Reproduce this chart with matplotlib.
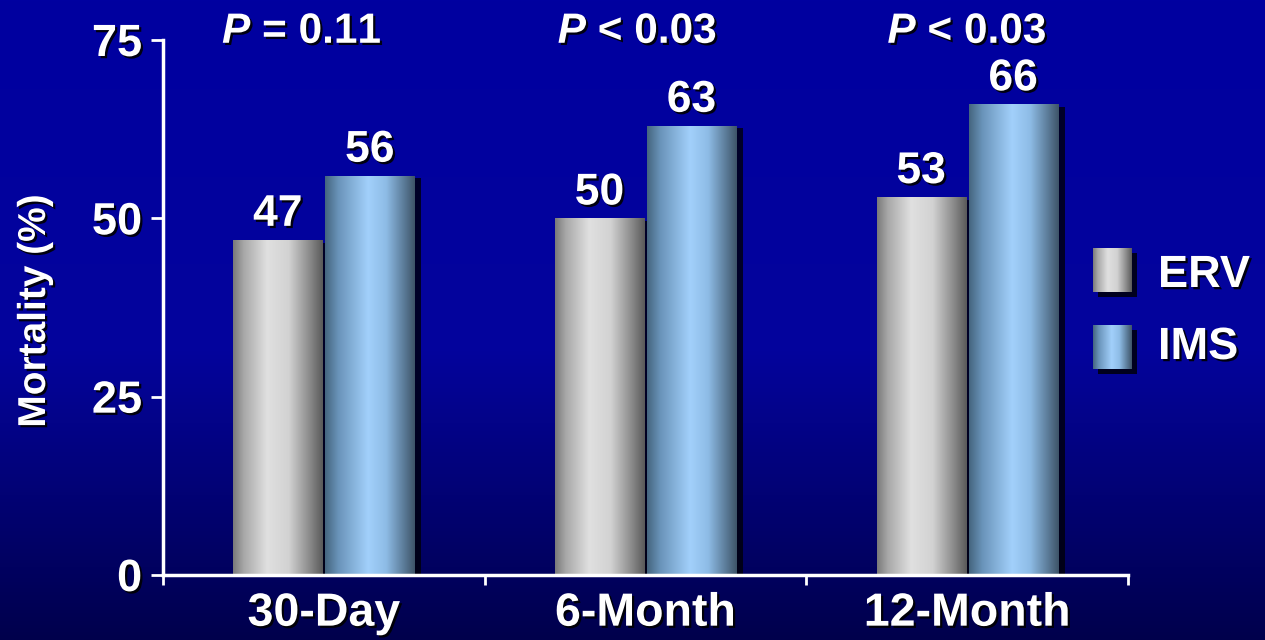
import numpy as np
import matplotlib
matplotlib.use("Agg")
import matplotlib.pyplot as plt
import matplotlib.patheffects as pe
from matplotlib.colors import LinearSegmentedColormap
from matplotlib.patches import Rectangle

# ---- data ----
categories = ["30-Day", "6-Month", "12-Month"]
series_names = ["ERV", "IMS"]
erv = [47, 50, 53]
ims = [56, 63, 66]
p_labels = [r"$P$ = 0.11", r"$P$ < 0.03", r"$P$ < 0.03"]
y_ticks = [0, 25, 50, 75]

plt.rcParams["font.family"] = ["Liberation Sans", "DejaVu Sans"]
plt.rcParams["mathtext.fontset"] = "custom"
plt.rcParams["mathtext.it"] = "Liberation Sans:italic:bold"
plt.rcParams["mathtext.rm"] = "Liberation Sans:bold"

W, H = 1265, 640
fig = plt.figure(figsize=(W / 100, H / 100), dpi=100)

# background: vertical blue gradient, in pixel-like coordinates
bg = fig.add_axes([0, 0, 1, 1])
bg.set_xlim(0, W)
bg.set_ylim(H, 0)
bg.axis("off")
bg_cmap = LinearSegmentedColormap.from_list(
    "bg", [(0.0, "#0000a0"), (0.55, "#04049c"), (1.0, "#00004c")])
bg.imshow(np.linspace(0, 1, 256)[:, None], cmap=bg_cmap,
          extent=[0, W, H, 0], aspect="auto", zorder=0)

# cylinder-like shading for the bars
erv_cmap = LinearSegmentedColormap.from_list(
    "erv", [(0.0, "#7a7a7a"), (0.12, "#a8a8a8"), (0.38, "#e0e0e0"),
            (0.62, "#d2d2d2"), (0.85, "#8c8c8c"), (1.0, "#5a5a5a")])
ims_cmap = LinearSegmentedColormap.from_list(
    "ims", [(0.0, "#45657f"), (0.15, "#6a94ba"), (0.48, "#a2d0fb"),
            (0.68, "#8ebce6"), (0.88, "#5b7b98"), (1.0, "#3e5468")])
cmaps = [erv_cmap, ims_cmap]

text_shadow = [pe.withSimplePatchShadow(offset=(1.6, -1.6),
                                        shadow_rgbFace="black", alpha=0.9)]
bar_shadow = [pe.SimplePatchShadow(offset=(5, -2), shadow_rgbFace="black",
                                   alpha=0.75), pe.Normal()]

ax = fig.add_axes([163 / W, 65 / H, 965 / W, 535 / H])
ax.patch.set_alpha(0)

x = np.arange(len(categories))
width = 0.277
offset = 0.143
grad = np.linspace(0, 1, 256)[None, :]

for values, shift, cmap in zip([erv, ims], [-offset, offset], cmaps):
    bars = ax.bar(x + shift, values, width, facecolor="none",
                  edgecolor="none", zorder=2)
    for rect, v in zip(bars, values):
        rect.set_path_effects(bar_shadow)
        x0, w_, h_ = rect.get_x(), rect.get_width(), rect.get_height()
        im = ax.imshow(grad, cmap=cmap, extent=[x0, x0 + w_, 0, h_],
                       aspect="auto", zorder=3)
        im.set_clip_path(rect)
        ax.annotate(f"{v}", (x0 + w_ / 2, v), xytext=(0, 10),
                    textcoords="offset points", ha="center", va="baseline",
                    fontsize=32, fontweight="bold", color="white",
                    path_effects=text_shadow, zorder=6)

# p-value annotations above each group
p_x = [-0.068, 0.975, 2.0]
for px, lbl in zip(p_x, p_labels):
    ax.text(px, 74.6, lbl, ha="center", va="baseline", fontsize=30.5,
            fontweight="bold", color="white", path_effects=text_shadow,
            clip_on=False, zorder=6)

ax.set_xlim(-0.5, 2.5)
ax.set_ylim(0, 75)

for s in ["top", "right"]:
    ax.spines[s].set_visible(False)
for s in ["left", "bottom"]:
    ax.spines[s].set_color("white")
    ax.spines[s].set_linewidth(2.5)
    ax.spines[s].set_zorder(5)

ax.set_yticks(y_ticks)
ax.tick_params(axis="y", colors="white", length=9, width=2, pad=6,
               labelsize=32.5)
ax.set_xticks(x, categories)
ax.set_xticks([-0.5, 0.5, 1.5, 2.5], minor=True)
ax.tick_params(axis="x", which="major", length=0, pad=12, labelsize=33.5,
               labelcolor="white")
ax.tick_params(axis="x", which="minor", length=7, width=2, color="white")
for lbl in ax.get_yticklabels() + ax.get_xticklabels():
    lbl.set_fontweight("bold")
    lbl.set_path_effects(text_shadow)

# y-axis title
bg.text(35, 311, "Mortality (%)", rotation=90, ha="center", va="center",
        fontsize=28, fontweight="bold", color="white",
        path_effects=text_shadow, zorder=5)

# legend
legend_rows = [(248, 287), (325, 359)]
for (top, base), name, cmap in zip(legend_rows, series_names, cmaps):
    sq = Rectangle((1093, top), 39, 44, facecolor="none", edgecolor="none",
                   zorder=2)
    sq.set_path_effects([pe.SimplePatchShadow(offset=(3.5, -3.5),
                                              shadow_rgbFace="black",
                                              alpha=0.8), pe.Normal()])
    bg.add_patch(sq)
    im = bg.imshow(grad, cmap=cmap, extent=[1093, 1132, top + 44, top],
                   aspect="auto", zorder=3)
    im.set_clip_path(sq)
    bg.text(1158, base, name, ha="left", va="baseline", fontsize=32.5,
            fontweight="bold", color="white", path_effects=text_shadow,
            zorder=5)
bg.set_xlim(0, W)
bg.set_ylim(H, 0)

fig.savefig("out.png", dpi=100)
